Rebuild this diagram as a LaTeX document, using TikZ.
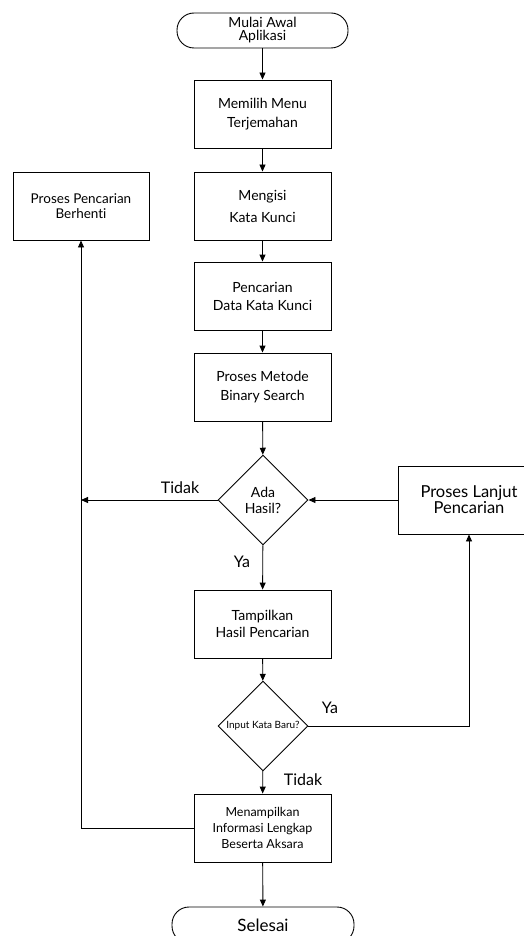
\documentclass[tikz,border=0pt]{standalone}
\usepackage{fontspec}
\setmainfont{Lato}[Ligatures=NoCommon]
\usetikzlibrary{shapes.geometric,arrows.meta}
\begin{document}
\begin{tikzpicture}[x=1pt,y=-1pt, line width=0.9pt,
  flow/.style={draw, -{Triangle[length=7pt,width=6pt]}},
  procbox/.style={draw, rectangle, minimum width=137pt, minimum height=68pt, inner sep=0pt, align=center, font=\fontsize{14}{18}\selectfont},
  termbox/.style={draw, rectangle, rounded corners=17pt, inner sep=0pt, align=center},
  decbox/.style={draw, diamond, minimum width=90pt, minimum height=90pt, inner sep=0pt, align=center},
  lbl/.style={font=\fontsize{16}{18}\selectfont, inner sep=0pt}
]
\fill[white] (0,0) rectangle (524,936);
\useasboundingbox (0,0) rectangle (524,936);
\begin{scope}
\clip (0,0) rectangle (524,936);
\node[termbox, minimum width=171pt, minimum height=35pt, font=\fontsize{14}{13}\selectfont] (start) at (262.5,30.5) {Mulai Awal\\Aplikasi};
\node[procbox, font=\fontsize{14}{19}\selectfont] (b1) at (262.5,114) {Memilih Menu\\Terjemahan};
\node[procbox, font=\fontsize{14}{22}\selectfont] (b2) at (262.5,206) {Mengisi\\Kata Kunci};
\node[procbox] (b3) at (262.5,296) {Pencarian\\Data Kata Kunci};
\node[procbox, font=\fontsize{14}{19}\selectfont] (b4) at (262.5,387) {Proses Metode\\Binary Search};
\node[decbox, font=\fontsize{14}{16}\selectfont] (d1) at (263,500) {Ada\\Hasil?};
\node[procbox, font=\fontsize{14}{17}\selectfont] (b5) at (262.5,624) {Tampilkan\\Hasil Pencarian};
\node[decbox, font=\fontsize{10}{12}\selectfont] (d2) at (263,726) {Input Kata Baru?};
\node[procbox, font=\fontsize{12.5}{16}\selectfont] (b6) at (262.5,828) {Menampilkan\\Informasi Lengkap\\Beserta Aksara};
\node[termbox, minimum width=182pt, minimum height=36pt, font=\fontsize{17}{18}\selectfont] (stop) at (263,925) {Selesai};
\node[procbox, minimum width=136pt, font=\fontsize{13.5}{15}\selectfont] (stopsearch) at (81,206) {Proses Pencarian\\Berhenti};
\node[procbox, minimum width=142pt, font=\fontsize{16.5}{13}\selectfont] (cont) at (469,500) {Proses Lanjut\\Pencarian};

\draw[flow] (start) -- (b1);
\draw[flow] (b1) -- (b2);
\draw[flow] (b2) -- (b3);
\draw[flow] (b3) -- (b4);
\draw[flow] (b4) -- (d1);
\draw[flow] (d1) -- (b5);
\draw[flow] (b5) -- (d2);
\draw[flow] (d2) -- (b6);
\draw[flow] (b6) -- (stop);
\draw[flow] (cont.west) -- (d1.east);
\draw[flow] (d1.west) -- (d1.west -| stopsearch.south);
\draw[flow] (b6.west) -| (stopsearch.south);
\draw[flow] (d2.east) -| (cont.south);

\node[lbl] (t1) at (180,488) {Tidak};
\node[lbl] (y1) at (242,562) {Ya};
\node[lbl] (y2) at (330,708) {Ya};
\node[lbl] (t2) at (303,780) {Tidak};
\end{scope}
\end{tikzpicture}
\end{document}
